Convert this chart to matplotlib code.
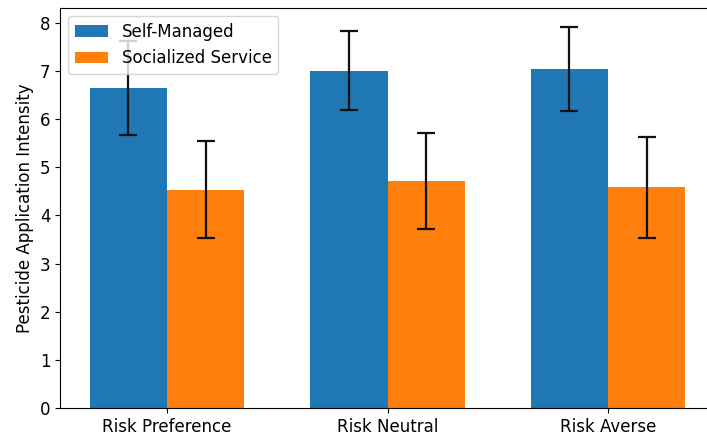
import matplotlib
matplotlib.use("Agg")
import matplotlib.pyplot as plt
import numpy as np

categories = ["Risk Preference", "Risk Neutral", "Risk Averse"]
self_managed = [6.65, 7.00, 7.04]
self_managed_err = [0.98, 0.82, 0.87]
socialized = [4.53, 4.72, 4.58]
socialized_err = [1.01, 1.00, 1.04]
series_labels = ["Self-Managed", "Socialized Service"]
ylabel = "Pesticide Application Intensity"

W, H = 707, 440
fig = plt.figure(figsize=(W / 100, H / 100), dpi=100)
ax = fig.add_axes([60 / W, 1 - 408 / H, (715 - 60) / W, 400 / H])

x = np.arange(len(categories))
width = 0.35
ekw = dict(elinewidth=1.6, capthick=1.6, ecolor="#111111")
ax.bar(x - width / 2, self_managed, width, yerr=self_managed_err, capsize=6.5,
       color="#1f77b4", label=series_labels[0], error_kw=ekw)
ax.bar(x + width / 2, socialized, width, yerr=socialized_err, capsize=6.5,
       color="#ff7f0e", label=series_labels[1], error_kw=ekw)

ax.set_xticks(x)
ax.set_xticklabels(categories, fontsize=12)
ax.tick_params(axis="y", labelsize=12)
ax.set_ylabel(ylabel, fontsize=12)
ax.legend(loc="upper left", fontsize=12)

fig.savefig("out.png", dpi=100)
